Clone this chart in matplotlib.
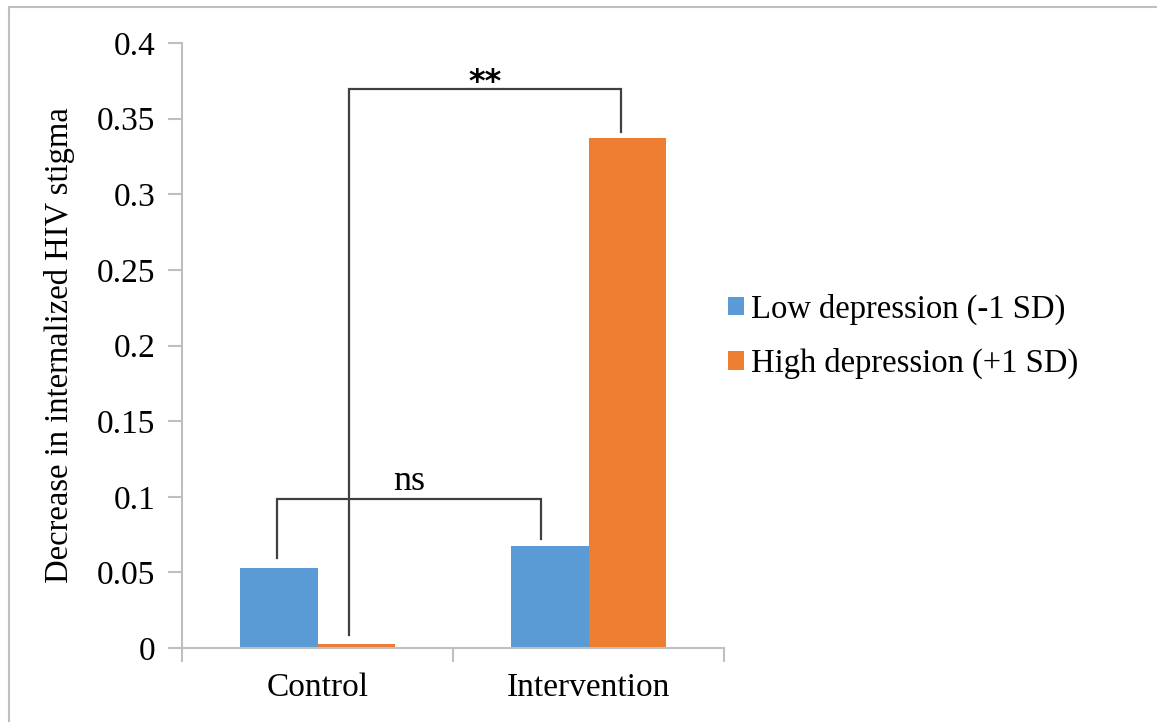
import matplotlib.pyplot as plt
from matplotlib.patches import Rectangle

# values
groups = ["Control", "Intervention"]
series_names = ["Low depression (-1 SD)", "High depression (+1 SD)"]
low_dep = [0.053, 0.0675]
high_dep = [0.0025, 0.3375]
y_ticks = [0, 0.05, 0.1, 0.15, 0.2, 0.25, 0.3, 0.35, 0.4]
y_tick_labels = ["0", "0.05", "0.1", "0.15", "0.2", "0.25", "0.3", "0.35", "0.4"]

# significance brackets: (x left, x right, y top, left leg end, right leg end, label)
brackets = [
    (-0.148, 0.824, 0.0985, 0.0597, 0.072, "ns"),
    (0.116, 1.12, 0.3696, 0.0086, 0.3414, "**"),
]

plt.rcParams["font.family"] = ["Liberation Serif", "DejaVu Serif"]

fig = plt.figure(figsize=(11.57, 7.22), dpi=100)
ax = fig.add_axes([0.1573, 0.1025, 0.4685, 0.8379])

blue = "#5B9BD5"
orange = "#ED7D31"
axis_gray = "#BFBFBF"
w = 0.285
x = range(len(groups))

ax.bar([i - w / 2 for i in x], low_dep, width=w, color=blue, label=series_names[0])
ax.bar([i + w / 2 for i in x], high_dep, width=w, color=orange, label=series_names[1])

# brackets drawn in data coordinates
for xl, xr, yt, yl, yr, txt in brackets:
    ax.plot([xl, xl, xr, xr], [yl, yt, yt, yr], color="#404040", lw=1.6,
            solid_joinstyle="miter", clip_on=False, zorder=3)
    if txt == "ns":
        ax.text((xl + xr) / 2, yt + 0.006, txt, ha="center", va="baseline", fontsize=26)
    else:
        ax.text((xl + xr) / 2, yt + 0.0045, txt, ha="center", va="center",
                fontsize=23, fontweight="bold", family=["DejaVu Sans"])

ax.set_xlim(-0.5, 1.5)
ax.set_ylim(0, 0.4)
ax.set_yticks(y_ticks)
ax.set_yticklabels(y_tick_labels)
ax.set_xticks([0, 1])
ax.set_xticklabels(groups)
ax.set_xticks([-0.5, 0.5, 1.5], minor=True)

for s in ["top", "right"]:
    ax.spines[s].set_visible(False)
for s in ["left", "bottom"]:
    ax.spines[s].set_color(axis_gray)
    ax.spines[s].set_linewidth(1.5)

ax.tick_params(axis="y", length=10, width=1.5, color=axis_gray, labelsize=24, pad=9)
ax.tick_params(axis="x", which="major", length=0, labelsize=24, pad=18)
ax.tick_params(axis="x", which="minor", length=10, width=1.5, color=axis_gray)

ax.set_ylabel("Decrease in internalized HIV stigma", fontsize=23.5)
ax.yaxis.set_label_coords(-0.197, 0.5)

fig.legend(loc="center left", bbox_to_anchor=(0.6035, 0.534), frameon=False,
           fontsize=23.5, handlelength=0.5, handleheight=0.5, handletextpad=0.22,
           labelspacing=0.72)

# light border around the chart area (left and top edges visible)
fig.patches.append(Rectangle((9 / 1157, -0.1), 1.2, 1.1 - 7 / 722, transform=fig.transFigure,
                             fill=False, edgecolor=axis_gray, lw=1.5, clip_on=False))

fig.savefig("out.png", dpi=100)
